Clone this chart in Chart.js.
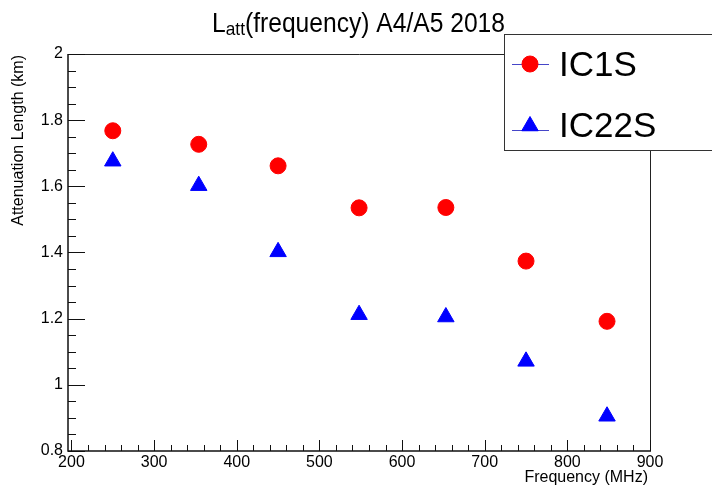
<!DOCTYPE html>
<html>
<head>
<meta charset="utf-8">
<script src="https://cdn.jsdelivr.net/npm/chart.js@4.4.0/dist/chart.umd.min.js"></script>
<style>
    html, body { margin: 0; padding: 0; background: #fff; }
</style>
</head>
<body>
<canvas id="myChart" width="712" height="487"></canvas>
<script>
    // values
    const frequencies = [250, 354, 450, 548, 653, 750, 848];
    const ic1sValues = [1.768, 1.727, 1.662, 1.535, 1.536, 1.374, 1.192];
    const ic22sValues = [1.676, 1.602, 1.402, 1.212, 1.205, 1.071, 0.905];

    const xTickValues = [200, 300, 400, 500, 600, 700, 800, 900];
    const xTickLabels = ["200", "300", "400", "500", "600", "700", "800", "900"];
    const yTickValues = [0.8, 1, 1.2, 1.4, 1.6, 1.8, 2];
    const yTickLabels = ["0.8", "1", "1.2", "1.4", "1.6", "1.8", "2"];

    const FONT = '"Liberation Sans", Arial, Helvetica, sans-serif';
    Chart.defaults.font.family = FONT;

    // ROOT style frame with inward ticks
    const rootFrame = {
        id: "rootFrame",
        beforeDatasetsDraw(chart) {
            const { ctx, chartArea: a, scales } = chart;
            const x = scales.x, y = scales.y;
            ctx.save();
            ctx.strokeStyle = "#222";
            ctx.lineWidth = 1;
            // top + right frame
            ctx.beginPath();
            ctx.moveTo(a.left, a.top + 0.5);
            ctx.lineTo(a.right + 0.5, a.top + 0.5);
            ctx.lineTo(a.right + 0.5, a.bottom);
            ctx.stroke();
            // axes
            ctx.lineWidth = 1.5;
            ctx.strokeStyle = "#111";
            ctx.beginPath();
            ctx.moveTo(a.left, a.top);
            ctx.lineTo(a.left, a.bottom);
            ctx.lineTo(a.right + 1, a.bottom);
            ctx.stroke();
            // x ticks, every 20, long every 100
            ctx.lineWidth = 1;
            ctx.beginPath();
            for (let i = 0; i <= 35; i++) {
                const v = 200 + 20 * i;
                const px = Math.round(x.getPixelForValue(v)) + 0.5;
                const len = (i % 5 === 0) ? 11 : 6;
                ctx.moveTo(px, a.bottom);
                ctx.lineTo(px, a.bottom - len);
            }
            // y ticks, every 0.05, long every 0.2
            for (let i = 0; i <= 24; i++) {
                const v = 0.8 + 0.05 * i;
                const py = Math.round(y.getPixelForValue(v)) + 0.5;
                const len = (i % 4 === 0) ? 17 : 8;
                ctx.moveTo(a.left, py);
                ctx.lineTo(a.left + len, py);
            }
            ctx.stroke();
            ctx.restore();
        },
        afterDraw(chart) {
            const { ctx, chartArea: a } = chart;
            ctx.save();
            ctx.fillStyle = "#000";
            ctx.textAlign = "left";
            ctx.textBaseline = "alphabetic";

            // title with subscript
            const mainFont = "27px " + FONT;
            const subFont = "19px " + FONT;
            ctx.font = mainFont;
            const wL = ctx.measureText("L").width;
            const rest = "(frequency) A4/A5 2018";
            const wRest = ctx.measureText(rest).width;
            ctx.font = subFont;
            const wSub = ctx.measureText("att").width;
            const sx = 293 / (wL + wSub + wRest);
            ctx.save();
            ctx.translate(212, 31.7);
            ctx.scale(sx, 1);
            ctx.font = mainFont;
            ctx.fillText("L", 0, 0);
            ctx.font = subFont;
            ctx.fillText("att", wL, 3.5);
            ctx.font = mainFont;
            ctx.fillText(rest, wL + wSub, 0);
            ctx.restore();

            // axis titles
            ctx.font = "16px " + FONT;
            ctx.textAlign = "right";
            ctx.fillText("Frequency (MHz)", a.right - 2, 481.5);
            ctx.save();
            ctx.translate(23, 55);
            ctx.rotate(-Math.PI / 2);
            ctx.fillText("Attenuation Length (km)", 0, 0);
            ctx.restore();

            // legend box
            ctx.fillStyle = "#fff";
            ctx.fillRect(504.5, 34.5, 230, 116);
            ctx.strokeStyle = "#333";
            ctx.lineWidth = 1;
            ctx.strokeRect(504.5, 34.5, 230, 116);

            const entries = [
                { text: "IC1S", ds: chart.data.datasets[0], lineY: 64.5, markY: 64, textY: 75.7 },
                { text: "IC22S", ds: chart.data.datasets[1], lineY: 130.5, markY: 126, textY: 136.7 }
            ];
            entries.forEach(function (e) {
                ctx.strokeStyle = "#4646c8";
                ctx.lineWidth = 1;
                ctx.beginPath();
                ctx.moveTo(512, e.lineY);
                ctx.lineTo(549, e.lineY);
                ctx.stroke();
                ctx.fillStyle = e.ds.backgroundColor;
                ctx.strokeStyle = e.ds.borderColor;
                Chart.helpers.drawPoint(ctx, {
                    pointStyle: e.ds.pointStyle,
                    radius: e.ds.pointRadius,
                    borderWidth: e.ds.borderWidth,
                    rotation: 0
                }, 530, e.markY);
                ctx.fillStyle = "#000";
                ctx.font = "35px " + FONT;
                ctx.textAlign = "left";
                ctx.fillText(e.text, 559, e.textY);
            });
            ctx.restore();
        }
    };

    const ctx = document.getElementById("myChart");
    new Chart(ctx, {
        type: "scatter",
        data: {
            datasets: [
                {
                    label: "IC1S",
                    data: frequencies.map(function (f, i) { return { x: f, y: ic1sValues[i] }; }),
                    pointStyle: "circle",
                    pointRadius: 8,
                    backgroundColor: "#ff0000",
                    borderColor: "#ff0000",
                    borderWidth: 1,
                },
                {
                    label: "IC22S",
                    data: frequencies.map(function (f, i) { return { x: f, y: ic22sValues[i] }; }),
                    pointStyle: "triangle",
                    pointRadius: 9.5,
                    backgroundColor: "#0000ff",
                    borderColor: "#0000ff",
                    borderWidth: 1,
                },
            ],
        },
        options: {
            responsive: false,
            animation: false,
            layout: {
                padding: { top: 54, right: 62, left: 0, bottom: 0 },
            },
            plugins: {
                legend: { display: false },
                tooltip: { enabled: false },
                title: { display: false },
            },
            scales: {
                x: {
                    type: "linear",
                    min: 195.8,
                    max: 900,
                    grid: { display: false, drawTicks: false },
                    border: { display: false },
                    afterFit: function (s) { s.height = 36; },
                    afterBuildTicks: function (s) {
                        s.ticks = xTickValues.map(function (v) { return { value: v }; });
                    },
                    ticks: {
                        padding: 2,
                        autoSkip: false,
                        maxRotation: 0,
                        color: "#000",
                        font: { size: 16 },
                        callback: function (v, i) { return xTickLabels[i]; },
                    },
                },
                y: {
                    type: "linear",
                    min: 0.8,
                    max: 2,
                    grid: { display: false, drawTicks: false },
                    border: { display: false },
                    afterFit: function (s) { s.width = 68; },
                    afterBuildTicks: function (s) {
                        s.ticks = yTickValues.map(function (v) { return { value: v }; });
                    },
                    ticks: {
                        padding: 5,
                        autoSkip: false,
                        color: "#000",
                        font: { size: 16 },
                        callback: function (v, i) { return yTickLabels[i]; },
                    },
                },
            },
        },
        plugins: [rootFrame],
    });
</script>
</body>
</html>
